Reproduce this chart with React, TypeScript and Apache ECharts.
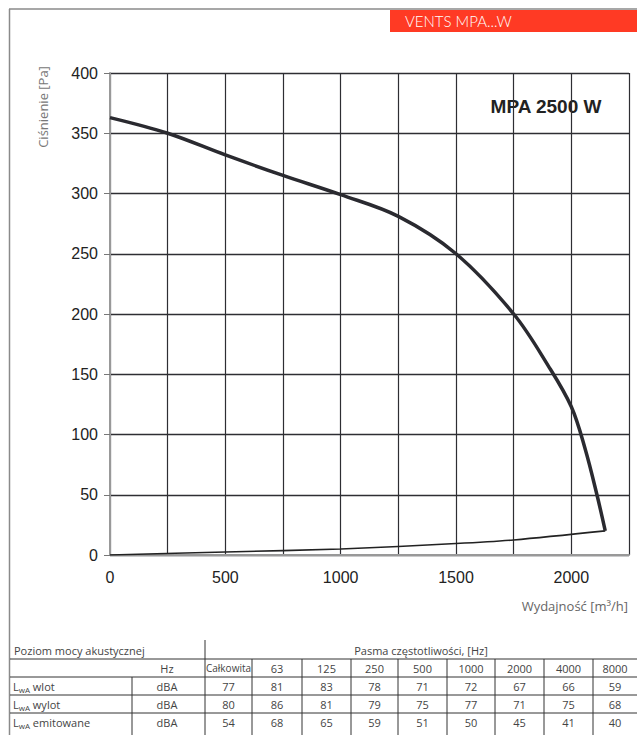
import React, { useEffect, useRef } from "react";
import * as echarts from "echarts";

// ---- Chart data ----
const flowMain = [0, 250, 500, 750, 1000, 1250, 1500, 1750, 1900, 2000, 2060, 2111, 2147];
const pressMain = [363, 350, 332, 315, 299, 281, 250, 200, 157, 123, 88, 50, 20];
const flowSystem = [0, 500, 1000, 1500, 1750, 2147];
const pressSystem = [0, 2.5, 5, 9.5, 12.5, 20];

const chartTitle = "MPA 2500 W";
const bannerText = "VENTS MPA...W";
const yAxisName = "Ciśnienie [Pa]";
const xAxisName = "Wydajność [m³/h]";

// ---- Table data ----
const tableHeaderLeft = "Poziom mocy akustycznej";
const tableHeaderRight = "Pasma częstotliwości, [Hz]";
const freqBands = ["Całkowita", "63", "125", "250", "500", "1000", "2000", "4000", "8000"];
const rowNames = ["wlot", "wylot", "emitowane"];
const rowUnit = "dBA";
const inletValues = [77, 81, 83, 78, 71, 72, 67, 66, 59];
const outletValues = [80, 86, 81, 79, 75, 77, 71, 75, 68];
const emittedValues = [54, 68, 65, 59, 51, 50, 45, 41, 40];

export default function App() {
  const ref = useRef<HTMLDivElement>(null);

  useEffect(() => {
    if (!ref.current) return;
    const chart = echarts.init(ref.current, undefined, { renderer: "svg" });

    const tableFont = "'Open Sans', 'DejaVu Sans', sans-serif";
    const tableColor = "#444";
    const lineColor = "#333";
    const colB = [205, 252, 302, 351, 398, 447, 495, 544, 593, 637];
    const rowLines = [659, 677, 695, 713];
    const rowCenters = [650, 668, 686, 704, 722];
    const tableRows = [inletValues, outletValues, emittedValues];

    const graphics: any[] = [];
    // frame
    graphics.push({ type: "line", shape: { x1: 9, y1: 9, x2: 637, y2: 9 }, style: { stroke: "#8a8a8a", lineWidth: 1.5 } });
    graphics.push({ type: "line", shape: { x1: 9.5, y1: 9, x2: 9.5, y2: 735 }, style: { stroke: "#8a8a8a", lineWidth: 1.5 } });
    // banner
    graphics.push({ type: "rect", shape: { x: 390, y: 10, width: 247, height: 22 }, style: { fill: "#ff3a24" } });
    graphics.push({
      type: "text", x: 405, y: 21,
      style: { text: bannerText, fill: "#fff", fontSize: 15, fontFamily: "Lato, 'Open Sans', sans-serif", fontWeight: 300, verticalAlign: "middle" },
    });
    // title box
    graphics.push({ type: "rect", shape: { x: 482, y: 88, width: 134, height: 34 }, style: { fill: "#fff" } });
    graphics.push({
      type: "text", x: 546, y: 106,
      style: { text: chartTitle, fill: "#222", fontSize: 19, fontWeight: "bold", fontFamily: "'Liberation Sans', Arial, sans-serif", align: "center", verticalAlign: "middle" },
    });
    // axis names
    graphics.push({
      type: "text", x: 43, y: 107, rotation: Math.PI / 2,
      style: { text: yAxisName, fill: "#777", fontSize: 13, fontFamily: tableFont, align: "center", verticalAlign: "middle" },
    });
    graphics.push({
      type: "text", x: 628, y: 606,
      style: { text: xAxisName, fill: "#666", fontSize: 13, fontFamily: tableFont, align: "right", verticalAlign: "middle" },
    });

    // table lines
    rowLines.forEach((y) => {
      graphics.push({ type: "line", shape: { x1: 10, y1: y, x2: 637, y2: y }, style: { stroke: lineColor, lineWidth: 1 } });
    });
    graphics.push({ type: "line", shape: { x1: colB[0], y1: 640, x2: colB[0], y2: 735 }, style: { stroke: lineColor, lineWidth: 1 } });
    graphics.push({ type: "line", shape: { x1: 132, y1: 677, x2: 132, y2: 735 }, style: { stroke: lineColor, lineWidth: 1 } });
    for (let i = 1; i < colB.length - 1; i++) {
      graphics.push({ type: "line", shape: { x1: colB[i], y1: 659, x2: colB[i], y2: 735 }, style: { stroke: lineColor, lineWidth: 1 } });
    }
    // table texts
    const tstyle = (text: string, align: string, size = 11) => ({
      text, fill: tableColor, fontSize: size, fontFamily: tableFont, align, verticalAlign: "middle",
    });
    graphics.push({ type: "text", x: 14, y: rowCenters[0], style: tstyle(tableHeaderLeft, "left") });
    graphics.push({ type: "text", x: 421, y: rowCenters[0], style: tstyle(tableHeaderRight, "center") });
    graphics.push({ type: "text", x: 167, y: rowCenters[1], style: tstyle("Hz", "center") });
    freqBands.forEach((b, i) => {
      graphics.push({ type: "text", x: (colB[i] + colB[i + 1]) / 2, y: rowCenters[1], style: tstyle(b, "center", i === 0 ? 10 : 11) });
    });
    tableRows.forEach((vals, r) => {
      const y = rowCenters[r + 2];
      graphics.push({
        type: "text", x: 13, y,
        style: {
          text: `{l|L}{s|wA}{n| ${rowNames[r]}}`,
          verticalAlign: "middle",
          rich: {
            l: { fontSize: 11, fill: tableColor, fontFamily: tableFont },
            s: { fontSize: 8, fill: tableColor, fontFamily: tableFont, padding: [6, 0, 0, 0] },
            n: { fontSize: 11, fill: tableColor, fontFamily: tableFont },
          },
        },
      });
      graphics.push({ type: "text", x: 167, y, style: tstyle(rowUnit, "center") });
      vals.forEach((v, i) => {
        graphics.push({ type: "text", x: (colB[i] + colB[i + 1]) / 2, y, style: tstyle(String(v), "center") });
      });
    });

    const gridStroke = "#2e2e33";
    chart.setOption({
      animation: false,
      backgroundColor: "#fff",
      grid: { left: 110, top: 73, right: 8, bottom: 180, containLabel: false },
      xAxis: {
        type: "value", min: 0, max: 2250, interval: 250,
        axisLine: { show: true, lineStyle: { color: "#999", width: 2 } },
        axisTick: { show: false },
        axisLabel: {
          margin: 14, fontSize: 16, color: "#222", fontFamily: "'Liberation Sans', Arial, sans-serif",
          formatter: (v: number) => (v % 500 === 0 ? String(v) : ""),
        },
        splitLine: { show: true, lineStyle: { color: gridStroke, width: 1.2 } },
      },
      yAxis: {
        type: "value", min: 0, max: 400, interval: 50,
        axisLine: { show: true, lineStyle: { color: "#999", width: 2 } },
        axisTick: { show: true, length: 6, lineStyle: { color: "#777", width: 1 } },
        axisLabel: { margin: 12, fontSize: 16, color: "#222", fontFamily: "'Liberation Sans', Arial, sans-serif" },
        splitLine: { show: true, lineStyle: { color: gridStroke, width: 1.4 } },
      },
      series: [
        {
          type: "line",
          data: flowMain.map((x, i) => [x, pressMain[i]]),
          smooth: 0.35,
          showSymbol: false,
          lineStyle: { color: "#2a2a30", width: 3.5 },
          z: 5,
        },
        {
          type: "line",
          data: flowSystem.map((x, i) => [x, pressSystem[i]]),
          smooth: 0.3,
          showSymbol: false,
          lineStyle: { color: "#222", width: 1.6 },
          z: 4,
        },
      ],
      graphic: graphics,
    });

    return () => chart.dispose();
  }, []);

  return (
    <div
      ref={ref}
      style={{ position: "fixed", left: 0, top: 0, width: 637, height: 735, background: "#fff" }}
    />
  );
}
